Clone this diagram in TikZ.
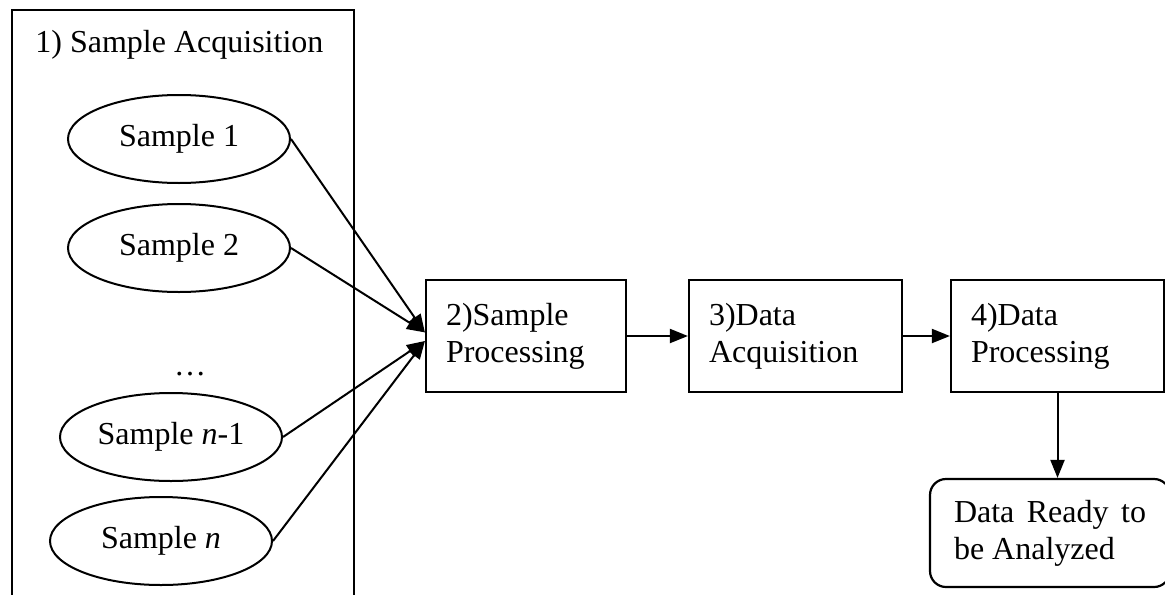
\documentclass[tikz,border=0pt]{standalone}
\usepackage{fontspec}
\setmainfont{Liberation Serif}
\usetikzlibrary{shapes.geometric,arrows.meta}

\begin{document}
\begin{tikzpicture}[x=0.5pt,y=-0.5pt,
  every node/.style={font=\fontsize{16}{18.5}\selectfont},
  sample/.style={draw,ellipse,line width=1pt,inner sep=0pt,
    minimum width=111pt,minimum height=44pt},
  stage/.style={draw,rectangle,line width=1.1pt,inner xsep=10pt,
    align=left,minimum height=56pt},
  result/.style={draw,rectangle,rounded corners=8pt,line width=1.1pt,
    inner xsep=12pt,text width=96pt,align=justify,minimum height=54pt},
  flow/.style={line width=1pt,-{Triangle[length=9pt,width=7pt]}}]
\useasboundingbox (0,0) rectangle (1165,594);
\clip (0,0) rectangle (1165,594);

% acquisition frame (runs off the bottom edge)
\draw[line width=1pt] (12,10) rectangle (354,640);
\node[anchor=base west,inner sep=0pt] (acqtitle) at (35,52) {1) Sample Acquisition};

% samples
\node[sample] (s1)  at (179,139) {Sample 1};
\node[sample] (s2)  at (179,248) {Sample 2};
\node[inner sep=0pt] (dots) at (190,374) {…};
\node[sample] (sn1) at (171,437) {Sample \textit{n}-1};
\node[sample] (sn)  at (161,541) {Sample \textit{n}};

% processing chain
\node[stage,text width=80pt] (p2) at (526,336) {2)Sample\\Processing};
\node[stage,text width=86.5pt] (p3) at (795.5,336) {3)Data\\Acquisition};
\node[stage,text width=86.5pt] (p4) at (1057.5,336) {4)Data\\Processing};
\node[result] (out) at (1050,533) {Data Ready to be Analyzed};

% connectors
\draw[flow] (s1.east)  -- ([yshift=1.8pt]p2.west);
\draw[flow] (s2.east)  -- ([yshift=1.8pt]p2.west);
\draw[flow] (sn1.east) -- ([yshift=-2.5pt]p2.west);
\draw[flow] (sn.east)  -- ([yshift=-2.5pt]p2.west);
\draw[flow] (p2.east) -- (p3.west);
\draw[flow] (p3.east) -- (p4.west);
\draw[flow] (p4.south) -- (out.north -| p4.south);
\end{tikzpicture}
\end{document}
